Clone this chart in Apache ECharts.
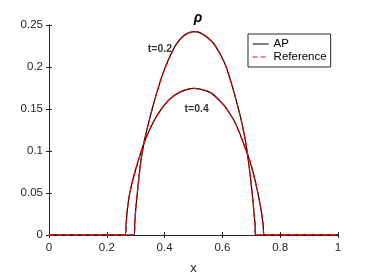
<!DOCTYPE html>
<html><head><meta charset="utf-8">
<script src="https://cdn.jsdelivr.net/npm/echarts@6/dist/echarts.min.js"></script>
<style>html,body{margin:0;padding:0;background:#fff}#c{width:374px;height:280px}</style>
</head><body><div id="c"></div>
<script>
// t = 0.2 (taller profile)
var xT02 = [0, 0.294, 0.297, 0.301, 0.308, 0.318, 0.330, 0.345, 0.365, 0.390, 0.415, 0.440, 0.465, 0.490, 0.505, 0.520, 0.545, 0.574, 0.609, 0.638, 0.667, 0.684, 0.696, 0.703, 0.709, 0.713, 0.715, 1];
var apT02 = [0, 0, 0.016, 0.034, 0.058, 0.088, 0.112, 0.134, 0.160, 0.188, 0.210, 0.227, 0.237, 0.2415, 0.242, 0.2412, 0.236, 0.226, 0.2035, 0.1725, 0.134, 0.103, 0.072, 0.050, 0.028, 0.012, 0, 0];
var refT02 = [0, 0, 0.016, 0.034, 0.058, 0.088, 0.112, 0.134, 0.160, 0.188, 0.210, 0.227, 0.237, 0.2415, 0.242, 0.2412, 0.236, 0.226, 0.2035, 0.1725, 0.134, 0.103, 0.072, 0.050, 0.028, 0.012, 0, 0];
// t = 0.4 (wider, lower profile)
var xT04 = [0, 0.264, 0.267, 0.271, 0.278, 0.288, 0.300, 0.313, 0.328, 0.345, 0.365, 0.385, 0.410, 0.435, 0.465, 0.500, 0.530, 0.563, 0.590, 0.609, 0.630, 0.644, 0.660, 0.672, 0.685, 0.696, 0.708, 0.719, 0.728, 0.736, 0.741, 0.745, 1];
var apT04 = [0, 0, 0.014, 0.030, 0.047, 0.063, 0.078, 0.093, 0.109, 0.123, 0.137, 0.148, 0.159, 0.1665, 0.1718, 0.1745, 0.173, 0.1686, 0.160, 0.153, 0.142, 0.134, 0.121, 0.110, 0.098, 0.087, 0.072, 0.056, 0.041, 0.025, 0.012, 0, 0];
var refT04 = [0, 0, 0.014, 0.030, 0.047, 0.063, 0.078, 0.093, 0.109, 0.123, 0.137, 0.148, 0.159, 0.1665, 0.1718, 0.1745, 0.173, 0.1686, 0.160, 0.153, 0.142, 0.134, 0.121, 0.110, 0.098, 0.087, 0.072, 0.056, 0.041, 0.025, 0.012, 0, 0];
var xTicks = [0, 0.2, 0.4, 0.6, 0.8, 1];
var yTicks = [0, 0.05, 0.1, 0.15, 0.2, 0.25];
var seriesNames = ['AP', 'Reference'];
var annotations = [['t=0.2', 0.384, 0.2215], ['t=0.4', 0.511, 0.1495]];

function pairs(xs, ys){ return xs.map(function(x,i){ return [x, ys[i]]; }); }
var FONT = 'Liberation Sans, Arial, Helvetica, sans-serif';
var AX = '#262626';
var chart = echarts.init(document.getElementById('c'), null, {renderer:'canvas'});
function lineSeries(name, data, color, dashed){
  return {name:name, type:'line', data:data, symbol:'none', smooth:0.25,
    lineStyle:{color:color, width: dashed ? 1.3 : 1.2, type: dashed ? [5,3] : 'solid'}, itemStyle:{color:color},
    animation:false, z: dashed ? 3 : 2};
}
var axisCommon = {
  axisLine:{show:true, lineStyle:{color:AX, width:1}},
  axisTick:{show:true, inside:true, length:3, lineStyle:{color:AX, width:1}},
  splitLine:{show:false}
};
chart.setOption({
  backgroundColor:'#fff',
  animation:false,
  title:{text:'ρ', left:193, top:6, textAlign:'center',
    textStyle:{fontFamily:FONT, fontSize:14, fontWeight:'bold', fontStyle:'italic', color:'#000'}},
  grid:{left:49, right:36, top:25, bottom:40, show:false},
  legend:{orient:'vertical', left:248, top:34, padding:[4,4,4,4],
    itemWidth:16, itemHeight:8, itemGap:1, backgroundColor:'#fff',
    borderColor:AX, borderWidth:1, itemStyle:{opacity:0},
    textStyle:{fontFamily:FONT, fontSize:11.5, lineHeight:12, color:'#000'},
    data:[
      {name:seriesNames[0], lineStyle:{color:'#000', width:1, type:'solid'}},
      {name:seriesNames[1], lineStyle:{color:'#ff0000', width:1.2, type:[5,3]}}
    ]},
  xAxis:[
    Object.assign({type:'value', min:xTicks[0], max:xTicks[xTicks.length-1], interval:0.2, position:'bottom',
      name:'x', nameLocation:'middle', nameGap:27, nameTextStyle:{fontFamily:FONT, fontSize:13, color:AX},
      axisLabel:{fontFamily:FONT, fontSize:11.5, color:AX, margin:7, formatter:function(v){return String(+v.toFixed(2));}}}, axisCommon),
    Object.assign({type:'value', min:xTicks[0], max:xTicks[xTicks.length-1], interval:0.2, position:'top',
      axisLabel:{show:false}}, axisCommon)
  ],
  yAxis:[
    Object.assign({type:'value', min:yTicks[0], max:yTicks[yTicks.length-1], interval:0.05, position:'left',
      axisLabel:{fontFamily:FONT, fontSize:11.5, color:AX, margin:6, formatter:function(v){return String(+v.toFixed(2));}}}, axisCommon),
    Object.assign({type:'value', min:yTicks[0], max:yTicks[yTicks.length-1], interval:0.05, position:'right',
      axisLabel:{show:false}}, axisCommon)
  ],
  series:[
    lineSeries('AP', pairs(xT02, apT02), '#000', false),
    lineSeries('AP', pairs(xT04, apT04), '#000', false),
    lineSeries('Reference', pairs(xT02, refT02), '#ff0000', true),
    lineSeries('Reference', pairs(xT04, refT04), '#ff0000', true),
    {type:'scatter', data:annotations.map(function(a){return [a[1], a[2], a[0]];}), symbolSize:1,
      itemStyle:{color:'rgba(0,0,0,0)'}, silent:true, z:5,
      label:{show:true, position:'inside', formatter:function(p){return p.data[2];},
        fontFamily:FONT, fontSize:10.5, fontWeight:'bold', color:'#000'}}
  ]
});
</script></body></html>
